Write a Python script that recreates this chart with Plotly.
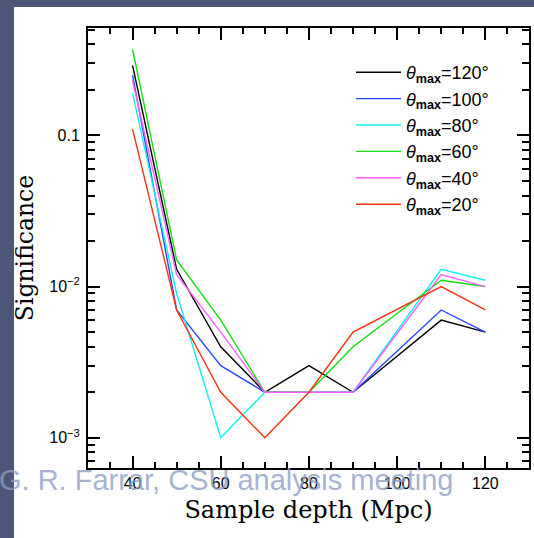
import plotly.graph_objects as go

depth = [40, 50, 60, 70, 80, 90, 110, 120]
theta_labels = ["120", "100", "80", "60", "40", "20"]
sig_120 = [0.29, 0.013, 0.004, 0.002, 0.003, 0.002, 0.006, 0.005]
sig_100 = [0.25, 0.007, 0.003, 0.002, 0.002, 0.002, 0.007, 0.005]
sig_80 = [0.19, 0.009, 0.001, 0.002, 0.002, 0.002, 0.013, 0.011]
sig_60 = [0.37, 0.015, 0.006, 0.002, 0.002, 0.004, 0.011, 0.010]
sig_40 = [0.23, 0.012, 0.005, 0.002, 0.002, 0.002, 0.012, 0.010]
sig_20 = [0.11, 0.007, 0.002, 0.001, 0.002, 0.005, 0.010, 0.007]
series = [sig_120, sig_100, sig_80, sig_60, sig_40, sig_20]
colors = ["#000000", "#2848ff", "#10f0f0", "#10e010", "#ff60ff", "#ff3010"]

y_tickvals = [0.001, 0.01, 0.1]
y_ticktext = ["10<sup>−3</sup>", "10<sup>−2</sup>", "0.1"]

W, H = 534, 538
ML, MR, MT, MB = 88, 5, 28, 70
PW, PH = W - ML - MR, H - MT - MB

def px(x):
    return (x - ML) / PW

def py(y):
    return (H - MB - y) / PH

fig = go.Figure()
for lab, vals, col in zip(theta_labels, series, colors):
    fig.add_trace(go.Scatter(
        x=depth, y=vals, mode="lines",
        line=dict(color=col, width=1.4),
        name="<i>θ</i><sub><b>max</b></sub>=" + lab + "°",
    ))

minor_y = []
for d in [0.0001, 0.001, 0.01, 0.1]:
    for k in range(2, 10):
        minor_y.append(round(k * d, 6))

fig.update_layout(
    width=W, height=H,
    margin=dict(l=ML, r=MR, t=MT, b=MB, pad=0, autoexpand=False),
    paper_bgcolor="#4c5676",
    plot_bgcolor="white",
    showlegend=True,
    legend=dict(
        x=px(351), y=py(54), xanchor="left", yanchor="top",
        bgcolor="rgba(0,0,0,0)",
        font=dict(family="Liberation Sans", size=18, color="black"),
        tracegroupgap=0, itemwidth=45,
    ),
    xaxis=dict(
        range=[29.9, 129.9], automargin=False,
        tickvals=[40, 60, 80, 100, 120],
        ticks="inside", ticklen=12, tickwidth=1.5, tickcolor="black",
        minor=dict(dtick=5, tick0=0, ticks="inside", ticklen=6, tickwidth=1.5, tickcolor="black"),
        showline=True, linecolor="black", linewidth=2, mirror="allticks",
        showgrid=False, zeroline=False,
        tickfont=dict(family="Liberation Sans", size=16, color="black"),
        title=dict(text="Sample depth (Mpc)", font=dict(family="DejaVu Serif", size=24, color="black"), standoff=10),
    ),
    yaxis=dict(
        type="log", automargin=False,
        range=[-3.2, -0.29],
        tickvals=y_tickvals, ticktext=y_ticktext,
        ticks="inside", ticklen=12, tickwidth=1.5, tickcolor="black",
        minor=dict(tickvals=minor_y, ticks="inside", ticklen=7, tickwidth=1.5, tickcolor="black"),
        showline=True, linecolor="black", linewidth=2, mirror="allticks",
        showgrid=False, zeroline=False,
        tickfont=dict(family="Liberation Sans", size=16, color="black"),
        ticklabelstandoff=3,
        title=dict(text="Significance", font=dict(family="DejaVu Serif", size=23.5, color="black"), standoff=9),
    ),
    shapes=[dict(
        type="rect", xref="paper", yref="paper",
        x0=px(14), x1=px(W + 5), y0=py(H + 5), y1=py(7),
        fillcolor="white", line=dict(width=0), layer="below",
    )],
    annotations=[dict(
        text="G. R. Farrar, CSU analysis meeting",
        xref="paper", yref="paper", x=px(-3), y=py(480),
        xanchor="left", yanchor="middle", showarrow=False,
        font=dict(family="Liberation Sans", size=29, color="rgba(140,158,196,0.8)"),
    )],
)

fig.write_html(
    "out.html",
    config={"displayModeBar": False},
    post_script="document.body.style.margin='0';document.body.style.padding='0';",
)
